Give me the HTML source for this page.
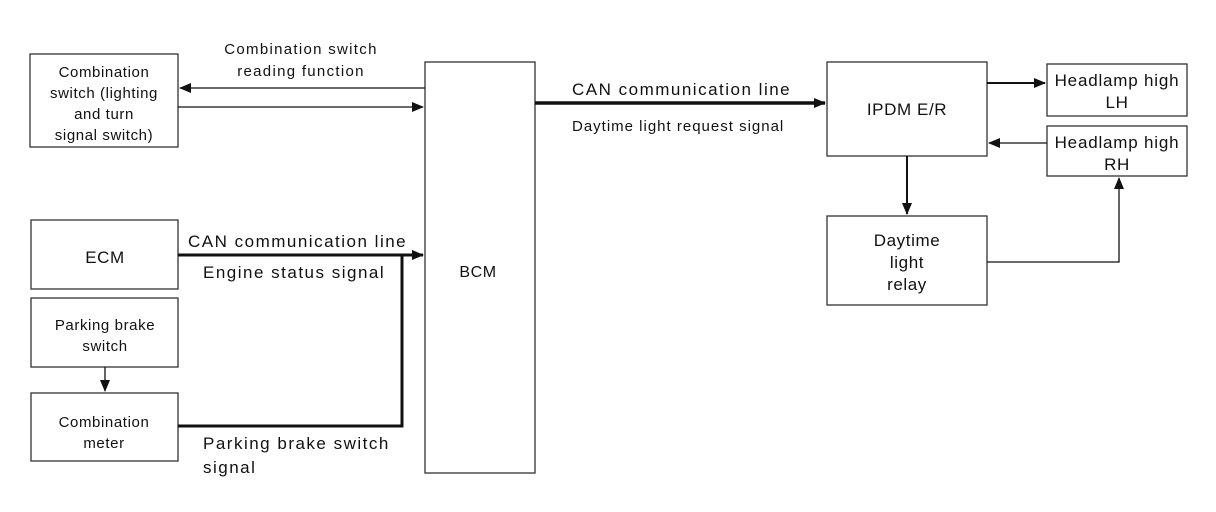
<!DOCTYPE html>
<html><head><meta charset="utf-8"><style>
html,body{margin:0;padding:0;background:#fff;}
svg{display:block;}
text{font-family:"Liberation Sans",sans-serif;fill:#111;}
</style></head><body>
<svg width="1216" height="512" viewBox="0 0 1216 512" xmlns="http://www.w3.org/2000/svg">
<defs>
<marker id="a" markerWidth="12" markerHeight="12" refX="11" refY="6" orient="auto" markerUnits="userSpaceOnUse">
<path d="M0,1 L12,6 L0,11 z" fill="#111"/></marker>
</defs>
<g fill="none" stroke="#333" stroke-width="1.3">
<rect x="30" y="54" width="148" height="93"/>
<rect x="425" y="62" width="110" height="411"/>
<rect x="31" y="220" width="147" height="69"/>
<rect x="31" y="298" width="147" height="69"/>
<rect x="31" y="393" width="147" height="68"/>
<rect x="827" y="62" width="160" height="94"/>
<rect x="1047" y="64" width="140" height="52"/>
<rect x="1047" y="126" width="140" height="50"/>
<rect x="827" y="216" width="160" height="89"/>
</g>
<g stroke="#111" fill="none">
<line x1="425" y1="88" x2="180" y2="88" stroke-width="1.3" marker-end="url(#a)"/>
<line x1="178" y1="107" x2="423" y2="107" stroke-width="1.3" marker-end="url(#a)"/>
<line x1="178" y1="255" x2="423" y2="255" stroke-width="3" marker-end="url(#a)"/>
<polyline points="402,255 402,426 178,426" stroke-width="3"/>
<line x1="105" y1="367" x2="105" y2="391" stroke-width="1.3" marker-end="url(#a)"/>
<line x1="535" y1="103" x2="825" y2="103" stroke-width="3.5" marker-end="url(#a)"/>
<line x1="987" y1="83" x2="1045" y2="83" stroke-width="2" marker-end="url(#a)"/>
<line x1="1047" y1="143" x2="989" y2="143" stroke-width="1.3" marker-end="url(#a)"/>
<line x1="907" y1="156" x2="907" y2="214" stroke-width="2" marker-end="url(#a)"/>
<polyline points="987,262 1119,262 1119,178" stroke-width="1.3" marker-end="url(#a)"/>
</g>
<g font-size="15" text-anchor="middle" letter-spacing="0.6">
<text x="104" y="77">Combination</text>
<text x="104" y="98">switch (lighting</text>
<text x="104" y="119">and turn</text>
<text x="104" y="140">signal switch)</text>
<text x="301" y="54" letter-spacing="1.3">Combination switch</text>
<text x="301" y="76" letter-spacing="1.3">reading function</text>
<text x="105" y="263" font-size="17">ECM</text>
<text x="105" y="330">Parking brake</text>
<text x="105" y="351">switch</text>
<text x="104" y="427">Combination</text>
<text x="104" y="448">meter</text>
<text x="478" y="277" font-size="16">BCM</text>
<text x="907" y="115" font-size="17">IPDM E/R</text>
<text x="1117" y="86" font-size="17" letter-spacing="0.8">Headlamp high</text>
<text x="1117" y="108" font-size="17">LH</text>
<text x="1117" y="148" font-size="17" letter-spacing="0.8">Headlamp high</text>
<text x="1117" y="170" font-size="17">RH</text>
<text x="907" y="246" font-size="17">Daytime</text>
<text x="907" y="268" font-size="17">light</text>
<text x="907" y="290" font-size="17">relay</text>
</g>
<g font-size="17" letter-spacing="1.5">
<text x="188" y="247">CAN communication line</text>
<text x="203" y="278">Engine status signal</text>
<text x="203" y="449">Parking brake switch</text>
<text x="203" y="473">signal</text>
<text x="572" y="95">CAN communication line</text>
<text x="572" y="131" font-size="15" letter-spacing="1">Daytime light request signal</text>
</g>
</svg>
</body></html>
